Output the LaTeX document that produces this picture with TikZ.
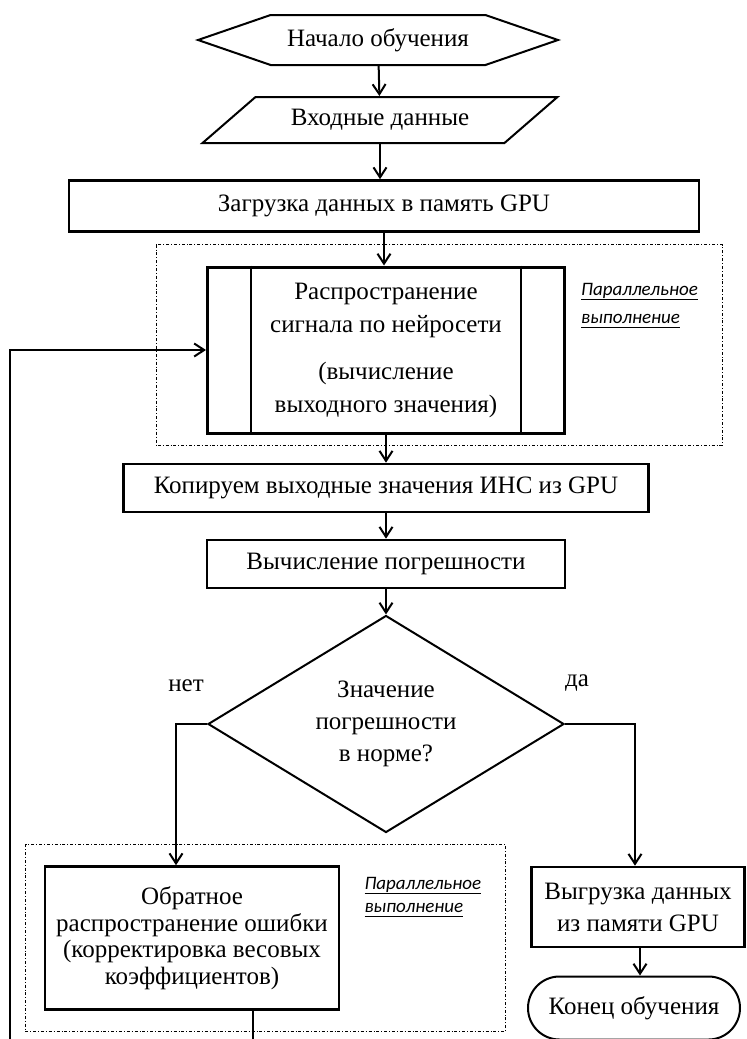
\documentclass[tikz,border=0pt]{standalone}
\usepackage{fontspec}
\setmainfont{Liberation Serif}
\newfontfamily\notefont{Carlito}
\usetikzlibrary{positioning, shapes.geometric, shapes.symbols, shapes.misc, arrows.meta}

\newcommand\noteline[1]{\underline{\smash{#1}\vphantom{,}}}

\tikzset{
    base/.style={draw, line width=2pt, inner sep=2pt, align=center,
        font=\fontsize{25}{30}\selectfont},
    startstop/.style={base, signal, signal to=west and east, signal pointer angle=38,
        minimum width=360pt, minimum height=50pt},
    io/.style={base, trapezium, trapezium left angle=33, trapezium right angle=147,
        trapezium stretches=true, minimum width=355pt, minimum height=46pt},
    procbox/.style={base, rectangle, line width=2.6pt, minimum height=48pt},
    decision/.style={base, diamond, aspect=1.64, minimum width=356pt, minimum height=217pt},
    stopbox/.style={base, rounded rectangle, minimum width=216pt, minimum height=63pt},
    frame/.style={line width=0.8pt, dash dot},
    note/.style={inner sep=0pt, anchor=west, align=left, font=\notefont\itshape\fontsize{19}{28}\selectfont},
    answer/.style={font=\fontsize{25}{30}\selectfont},
    flow/.style={->, line width=2pt}
}

\begin{document}
\begin{tikzpicture}[x=1pt, y=1pt, node distance=80pt, on grid,
        >={Straight Barb[length=10pt, width=13pt]}]
    \useasboundingbox (0,0) rectangle (747,-1039);

    \node[startstop] (start) at (378,-40) {Начало обучения};
    \node[io]        (input) [below=80pt of start, xshift=2pt] {Входные данные};
    \node[procbox, minimum width=630pt, minimum height=51pt] (load) [below=86pt of input, xshift=4pt]
        {Загрузка данных в память GPU};
    \node[procbox, line width=3pt, minimum width=357pt, minimum height=166pt,
        font=\fontsize{25}{33}\selectfont] (prop) [below=144pt of load, xshift=2pt]
        {Распространение\\сигнала по нейросети\\[14pt](вычисление\\выходного значения)};
    \node[procbox, minimum width=525pt] (copy) [below=138pt of prop] {Копируем выходные значения ИНС из GPU};
    \node[procbox, minimum width=358pt] (err) [below=76pt of copy] {Вычисление погрешности};
    \node[decision, font=\fontsize{25}{32}\selectfont] (check) [below=160pt of err]
        {Значение\\погрешности\\в норме?};
    \node[procbox, minimum width=294pt, minimum height=143pt, font=\fontsize{25}{26.5}\selectfont]
        (backprop) [below left=214pt and 194pt of check]
        {Обратное\\распространение ошибки\\(корректировка весовых\\коэффициентов)};
    \node[procbox, minimum width=213pt, minimum height=80pt, font=\fontsize{25}{32}\selectfont]
        (unload) [below right=183pt and 252pt of check] {Выгрузка данных\\из памяти GPU};
    \node[stopbox] (finish) [below=101pt of unload, xshift=-4pt] {Конец обучения};

    \draw[line width=1.5pt] ([xshift=45pt]prop.north west) -- ([xshift=45pt]prop.south west);
    \draw[line width=1.5pt] ([xshift=-45pt]prop.north east) -- ([xshift=-45pt]prop.south east);

    \draw[frame] ([xshift=-50pt, yshift=21pt]prop.north west) rectangle ([xshift=156pt, yshift=-11pt]prop.south east);
    \draw[frame] ([xshift=-18pt, yshift=21pt]backprop.north west) rectangle ([xshift=165pt, yshift=-21pt]backprop.south east);

    \node[note] (par1) at ([xshift=15pt, yshift=39pt]prop.east) {\noteline{Параллельное}\\\noteline{выполнение}};
    \node[note, font=\notefont\itshape\fontsize{19}{23}\selectfont] (par2) at ([xshift=24pt, yshift=36pt]backprop.east)
        {\noteline{Параллельное}\\\noteline{выполнение}};

    \node[answer] (no)  at ([xshift=-21pt, yshift=38pt]check.west) {нет};
    \node[answer] (yes) at ([xshift=12pt, yshift=41pt]check.east) {да};

    \coordinate (loopturn) at (10,-1050);

    \path[flow]
        (start) edge (input);
    \draw[flow] (input.south) -- (input.south |- load.north);
    \draw[flow] (load.south) -- (load.south |- prop.north);
    \path[flow]
        (prop) edge (copy)
        (copy) edge (err)
        (err) edge (check);
    \draw[flow] (check.west) -| ([xshift=-16pt]backprop.north);
    \draw[flow] (check.east) -| ([xshift=-3pt]unload.north);
    \draw[flow] ([xshift=2pt]unload.south) -- ([xshift=2pt]unload.south |- finish.north);
    \draw[flow] ([xshift=61pt]backprop.south) |- (loopturn) |- (prop.west);
\end{tikzpicture}
\end{document}
